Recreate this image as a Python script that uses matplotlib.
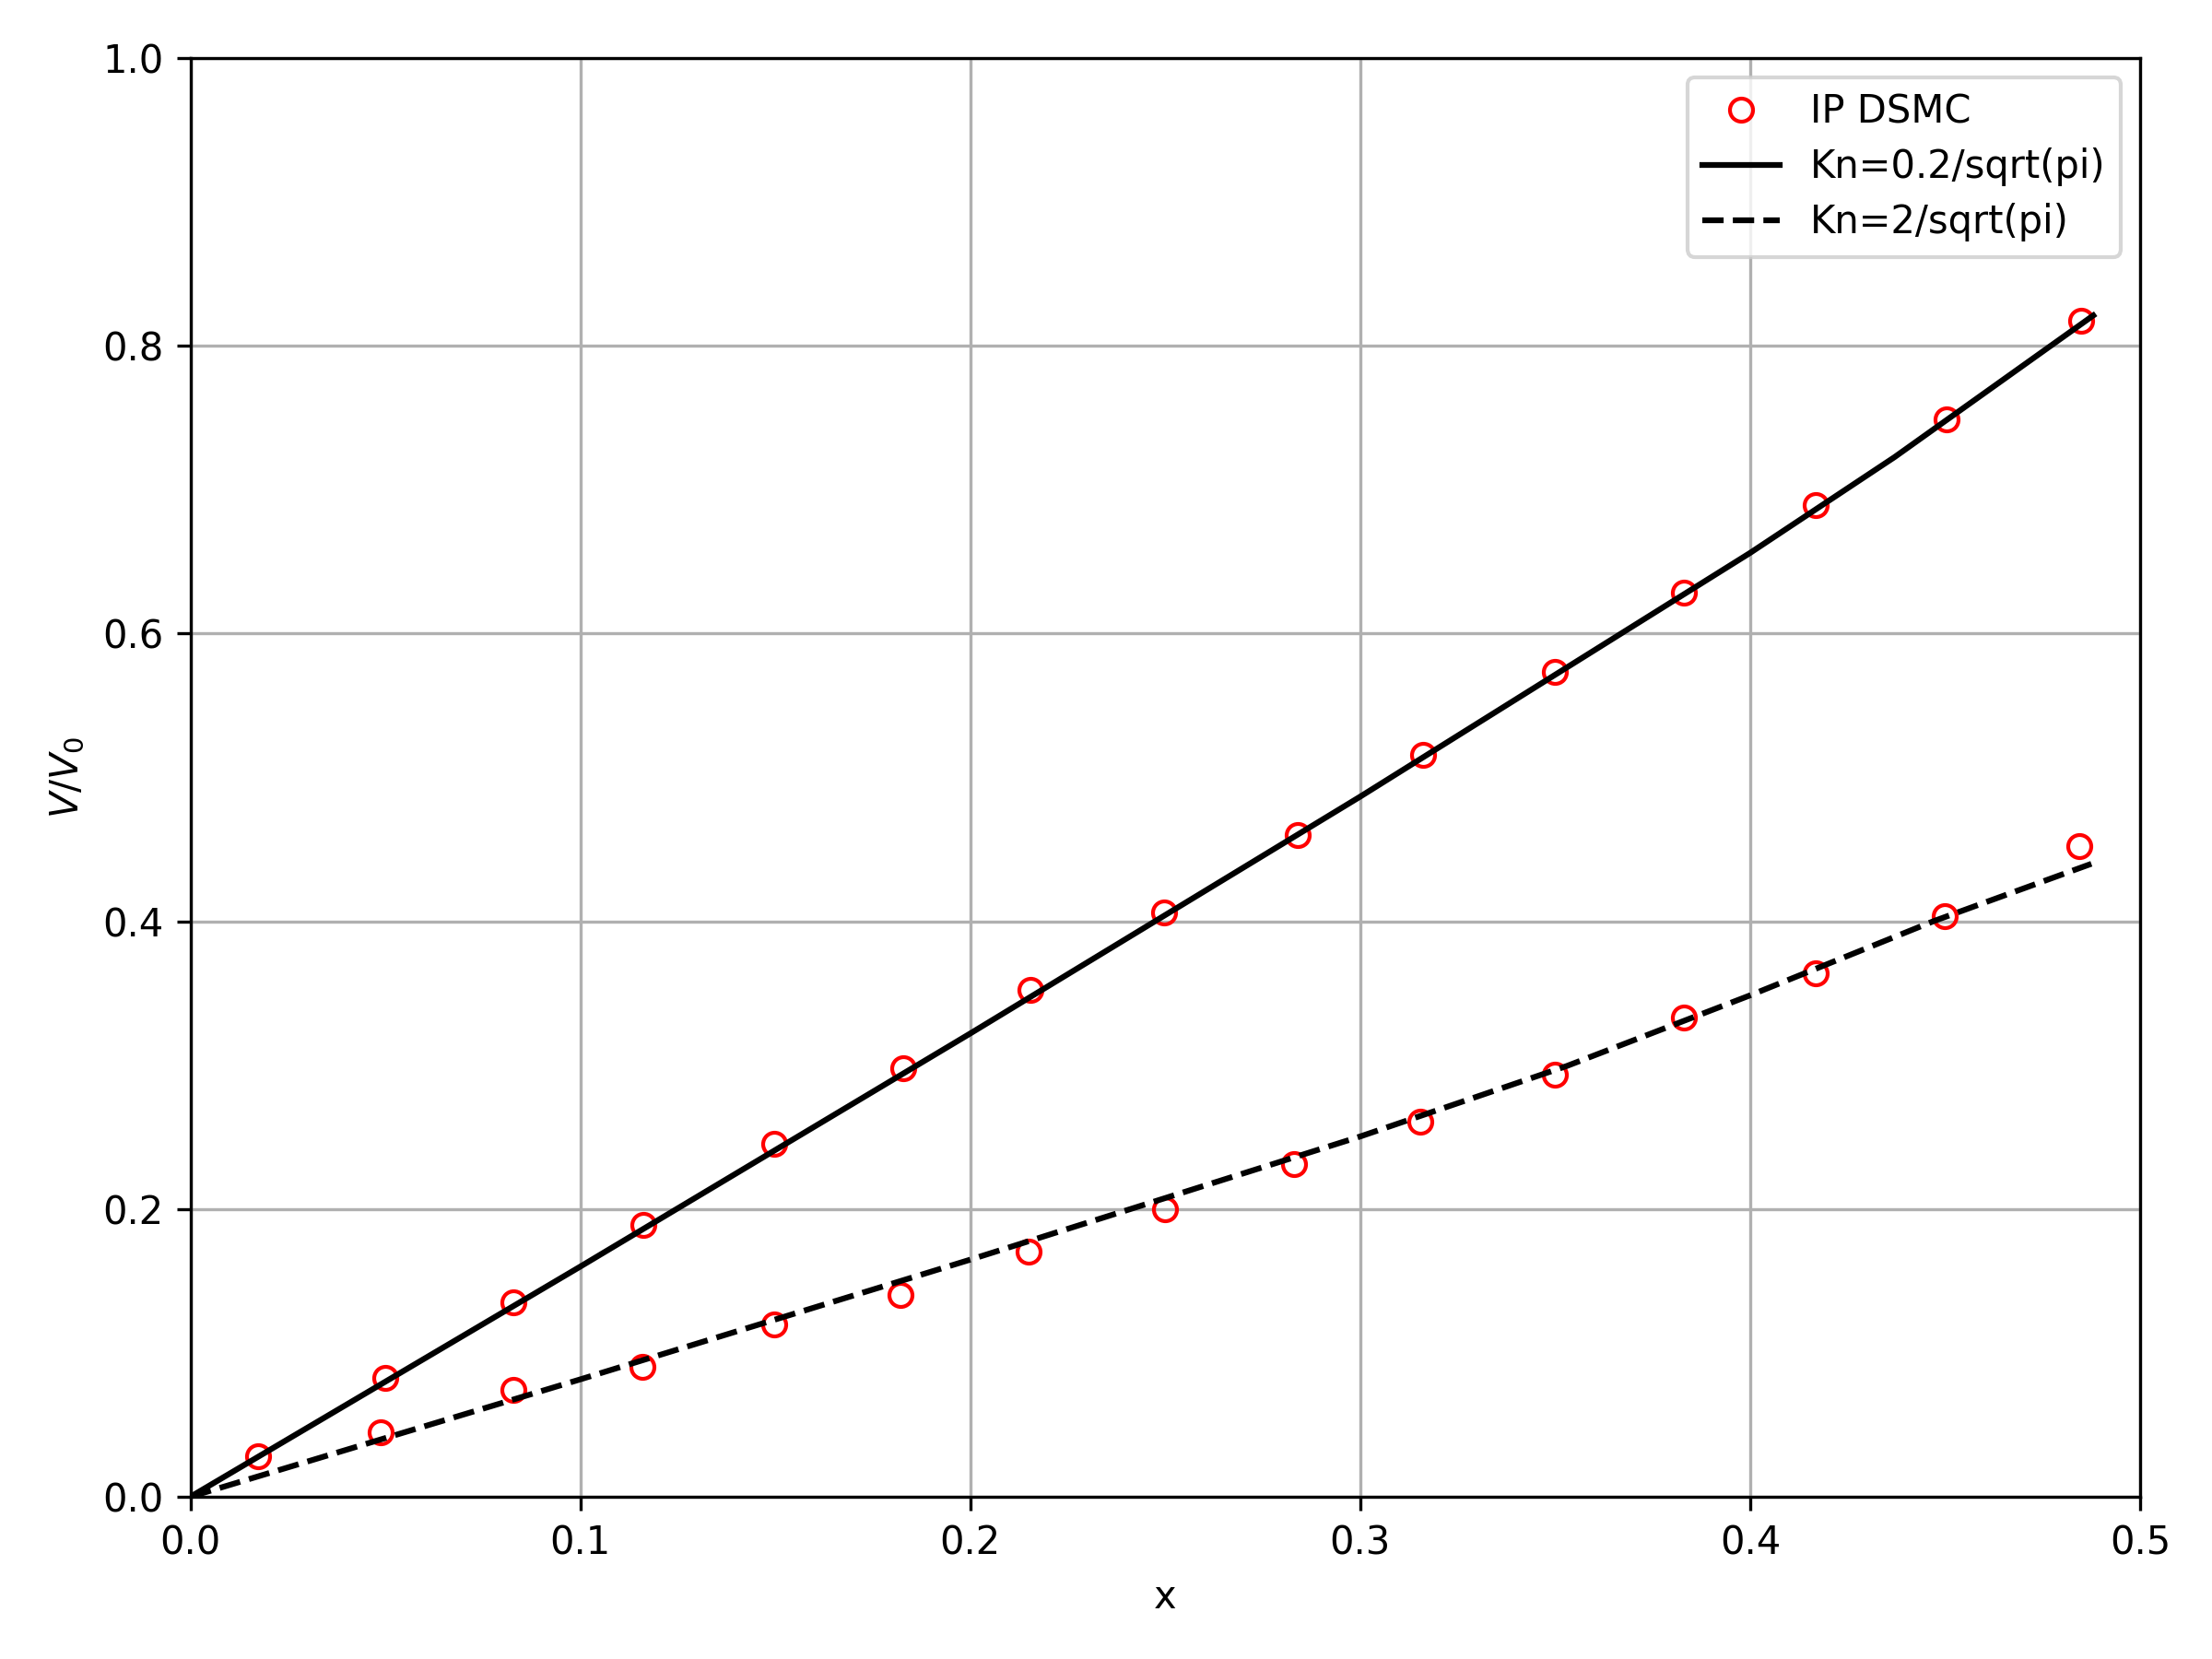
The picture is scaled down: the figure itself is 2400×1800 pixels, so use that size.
import matplotlib
matplotlib.use("Agg")
import matplotlib.pyplot as plt
import numpy as np

# IP DSMC data, Kn = 0.2/sqrt(pi)
dsmc1_x = [0.0174, 0.0499, 0.0829, 0.1161, 0.1498, 0.1827, 0.2153, 0.2496,
           0.2840, 0.3162, 0.3499, 0.3831, 0.4168, 0.4504, 0.4848]
dsmc1_y = [0.0284, 0.0824, 0.1353, 0.1892, 0.2451, 0.2980, 0.3520, 0.4060,
           0.4598, 0.5157, 0.5735, 0.6284, 0.6892, 0.7490, 0.8176]

# IP DSMC data, Kn = 2/sqrt(pi)
dsmc2_x = [0.0488, 0.0829, 0.1158, 0.1498, 0.1820, 0.2149, 0.2500, 0.2829,
           0.3155, 0.3499, 0.3829, 0.4169, 0.4498, 0.4844]
dsmc2_y = [0.0451, 0.0745, 0.0902, 0.1196, 0.1402, 0.1706, 0.2000, 0.2314,
           0.2608, 0.2931, 0.3331, 0.3640, 0.4036, 0.4521]

# Reference solutions
kn1_x = [0.0, 0.1, 0.2, 0.3, 0.4, 0.437, 0.488]
kn1_y = [0.0, 0.160, 0.322, 0.4866, 0.656, 0.7225, 0.821]

kn2_x = [0.0, 0.1, 0.2, 0.3, 0.353, 0.4, 0.447, 0.4875]
kn2_y = [0.0, 0.0816, 0.1648, 0.2504, 0.2994, 0.3485, 0.400, 0.4399]

fig, ax = plt.subplots(figsize=(8, 6), dpi=300)
fig.subplots_adjust(left=0.0861, right=0.9675, top=0.9651, bottom=0.0978)

h1, = ax.plot(dsmc1_x, dsmc1_y, 'o', mfc='none', mec='red', linestyle='none',
              label='IP DSMC')
ax.plot(dsmc2_x, dsmc2_y, 'o', mfc='none', mec='red', linestyle='none')
h2, = ax.plot(kn1_x, kn1_y, '-', color='black', label='Kn=0.2/sqrt(pi)')
h3, = ax.plot(kn2_x, kn2_y, '--', color='black', label='Kn=2/sqrt(pi)')

ax.set_xlim(0, 0.5)
ax.set_ylim(0, 1.0)
ax.set_xlabel('x')
ax.set_ylabel('$V/V_0$')
ax.grid(True)
ax.legend(handles=[h1, h2, h3], loc='upper right', labelspacing=0.43)

fig.savefig('out.png', dpi=300)
